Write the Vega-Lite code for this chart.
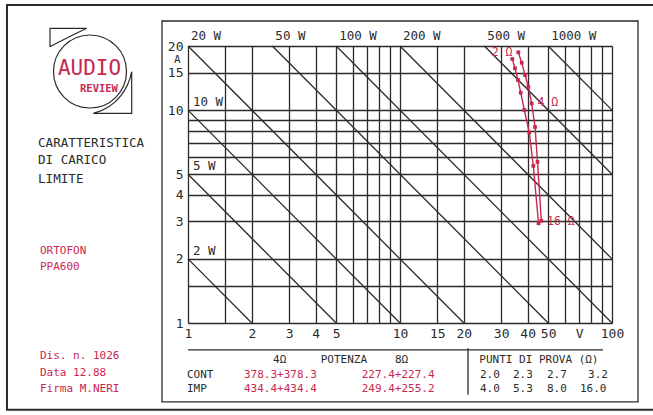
{
  "$schema": "https://vega.github.io/schema/vega-lite/v6.json",
  "width": 424,
  "height": 277,
  "autosize": {"type": "none"},
  "padding": {"left": 188, "top": 46, "right": 41, "bottom": 92},
  "background": "white",
  "config": {
    "view": {"stroke": null},
    "font": "DejaVu Sans Mono",
    "text": {"font": "DejaVu Sans Mono"}
  },
  "datasets": {
    "power": [
      {"P": 2, "x": 1, "y": 2}, {"P": 2, "x": 2, "y": 1},
      {"P": 5, "x": 1, "y": 5}, {"P": 5, "x": 5, "y": 1},
      {"P": 10, "x": 1, "y": 10}, {"P": 10, "x": 10, "y": 1},
      {"P": 20, "x": 1, "y": 20}, {"P": 20, "x": 20, "y": 1},
      {"P": 50, "x": 2.5, "y": 20}, {"P": 50, "x": 50, "y": 1},
      {"P": 100, "x": 5, "y": 20}, {"P": 100, "x": 100, "y": 1},
      {"P": 200, "x": 10, "y": 20}, {"P": 200, "x": 100, "y": 2},
      {"P": 500, "x": 25, "y": 20}, {"P": 500, "x": 100, "y": 5},
      {"P": 1000, "x": 50, "y": 20}, {"P": 1000, "x": 100, "y": 10}
    ],
    "topLabels": [
      {"label": "20 W", "x": 1, "y": 20},
      {"label": "50 W", "x": 2.5, "y": 20},
      {"label": "100 W", "x": 5, "y": 20},
      {"label": "200 W", "x": 10, "y": 20},
      {"label": "500 W", "x": 25, "y": 20},
      {"label": "1000 W", "x": 50, "y": 20}
    ],
    "innerLabels": [
      {"label": "10 W", "x": 1, "y": 10},
      {"label": "5 W", "x": 1, "y": 5},
      {"label": "2 W", "x": 1, "y": 2}
    ],
    "curves": [
      {"s": "A", "ohm": 2, "x": 33.86, "y": 17.38},
      {"s": "A", "ohm": 2.3, "x": 34.86, "y": 15.72},
      {"s": "A", "ohm": 2.7, "x": 36.03, "y": 13.85},
      {"s": "A", "ohm": 3.2, "x": 37.1, "y": 12.07},
      {"s": "A", "ohm": 4, "x": 38.58, "y": 10.01},
      {"s": "A", "ohm": 5.3, "x": 40.73, "y": 7.85},
      {"s": "A", "ohm": 8, "x": 42.55, "y": 5.47},
      {"s": "A", "ohm": 16, "x": 45.02, "y": 2.94},
      {"s": "B", "ohm": 2, "x": 36.14, "y": 18.69},
      {"s": "B", "ohm": 2.3, "x": 37.5, "y": 16.7},
      {"s": "B", "ohm": 2.7, "x": 38.87, "y": 14.62},
      {"s": "B", "ohm": 3.2, "x": 40.29, "y": 12.88},
      {"s": "B", "ohm": 4, "x": 41.8, "y": 10.74},
      {"s": "B", "ohm": 5.3, "x": 43.35, "y": 8.33},
      {"s": "B", "ohm": 8, "x": 44.53, "y": 5.71},
      {"s": "B", "ohm": 16, "x": 46.39, "y": 3.02}
    ],
    "curveLabels": [
      {"label": "2 Ω", "x": 27.07, "y": 18.54},
      {"label": "4 Ω", "x": 44.53, "y": 10.8},
      {"label": "16 Ω", "x": 49.36, "y": 2.984}
    ],
    "outerFrame": [{"x": 0.14, "x2": 168.4, "y": 31.15, "y2": 0.391}],
    "innerFrame": [{"x": 0.7541, "x2": 132.6, "y": 26.21, "y2": 0.4262}],
    "tableRules": [
      {"x": 1, "x2": 90.7, "y": 0.7479, "y2": 0.7479},
      {"x": 20.93, "x2": 20.93, "y": 0.7602, "y2": 0.4598}
    ],
    "titleText": [
      {"label": "CARATTERISTICA", "x": 0.1961, "y": 7.03},
      {"label": "DI CARICO", "x": 0.1961, "y": 5.83},
      {"label": "LIMITE", "x": 0.1961, "y": 4.73}
    ],
    "unitText": [
      {"label": "A", "x": 0.86, "y": 17.1}
    ],
    "redText": [
      {"label": "ORTOFON", "x": 0.2003, "y": 2.19},
      {"label": "PPA600", "x": 0.2003, "y": 1.84},
      {"label": "Dis. n. 1026", "x": 0.2003, "y": 0.701},
      {"label": "Data 12.88", "x": 0.2003, "y": 0.585},
      {"label": "Firma M.NERI", "x": 0.2003, "y": 0.4906},
      {"label": "378.3+378.3", "x": 1.837, "y": 0.5706},
      {"label": "434.4+434.4", "x": 1.837, "y": 0.489},
      {"label": "227.4+227.4", "x": 6.597, "y": 0.5706},
      {"label": "249.4+255.2", "x": 6.597, "y": 0.489}
    ],
    "tableText": [
      {"label": "4Ω", "x": 2.518, "y": 0.671},
      {"label": "POTENZA", "x": 4.226, "y": 0.671},
      {"label": "8Ω", "x": 9.47, "y": 0.671},
      {"label": "PUNTI DI PROVA (Ω)", "x": 23.66, "y": 0.671},
      {"label": "CONT", "x": 0.989, "y": 0.5706},
      {"label": "IMP", "x": 0.989, "y": 0.489},
      {"label": "2.0", "x": 23.84, "y": 0.5706},
      {"label": "2.3", "x": 34.12, "y": 0.5706},
      {"label": "2.7", "x": 49.36, "y": 0.5706},
      {"label": "3.2", "x": 77.06, "y": 0.5706},
      {"label": "4.0", "x": 23.84, "y": 0.489},
      {"label": "5.3", "x": 34.12, "y": 0.489},
      {"label": "8.0", "x": 49.36, "y": 0.489},
      {"label": "16.0", "x": 70.63, "y": 0.489}
    ],
    "logo": [{"x": 0.3449, "y": 15.18}],
    "logoBig": [{"label": "AUDIO", "x": 0.3431, "y": 15.55}],
    "logoSmall": [{"label": "REVIEW", "x": 0.3802, "y": 12.6}]
  },
  "encoding": {
    "x": {
      "field": "x", "type": "quantitative",
      "scale": {"type": "log", "domain": [1, 100], "nice": false},
      "axis": {
        "values": [1, 1.5, 2, 3, 4, 5, 6, 7, 8, 9, 10, 15, 20, 30, 40, 50, 60, 70, 80, 90, 100],
        "labelExpr": "datum.value == 70 ? 'V' : (indexof([1,2,3,4,5,10,15,20,30,40,50,100], datum.value) >= 0 ? '' + datum.value : '')",
        "title": null, "grid": true, "gridColor": "#2b2b2b", "gridWidth": 1.3, "gridOpacity": 1,
        "domain": false, "ticks": false, "labelPadding": 4, "labelFontSize": 13,
        "labelFont": "DejaVu Sans Mono", "labelColor": "#2b2b2b",
        "labelOverlap": false, "labelFlush": false, "labelBound": false
      }
    },
    "y": {
      "field": "y", "type": "quantitative",
      "scale": {"type": "log", "domain": [1, 20], "nice": false},
      "axis": {
        "values": [1, 1.5, 2, 3, 4, 5, 6, 7, 8, 9, 10, 15, 20],
        "labelExpr": "indexof([1,2,3,4,5,10,15,20], datum.value) >= 0 ? '' + datum.value : ''",
        "title": null, "grid": true, "gridColor": "#2b2b2b", "gridWidth": 1.3, "gridOpacity": 1,
        "domain": false, "ticks": false, "labelPadding": 5, "labelFontSize": 13,
        "labelFont": "DejaVu Sans Mono", "labelColor": "#2b2b2b",
        "labelOverlap": false, "labelFlush": false, "labelBound": false
      }
    }
  },
  "layer": [
    {
      "data": {"name": "outerFrame"},
      "mark": {"type": "rect", "filled": false, "stroke": "#2b2b2b", "strokeWidth": 2, "clip": false},
      "encoding": {"x2": {"field": "x2"}, "y2": {"field": "y2"}}
    },
    {
      "data": {"name": "innerFrame"},
      "mark": {"type": "rect", "filled": false, "stroke": "#2b2b2b", "strokeWidth": 1.3, "clip": false},
      "encoding": {"x2": {"field": "x2"}, "y2": {"field": "y2"}}
    },
    {
      "data": {"name": "tableRules"},
      "mark": {"type": "rule", "stroke": "#2b2b2b", "strokeWidth": 1.3},
      "encoding": {"x2": {"field": "x2"}, "y2": {"field": "y2"}}
    },
    {
      "data": {"name": "power"},
      "mark": {"type": "line", "stroke": "#2b2b2b", "strokeWidth": 1.3},
      "encoding": {"detail": {"field": "P", "type": "nominal"}}
    },
    {
      "data": {"name": "topLabels"},
      "mark": {"type": "text", "align": "left", "baseline": "alphabetic", "dx": 3, "dy": -6, "fontSize": 12.5, "fill": "#2b2b2b"},
      "encoding": {"text": {"field": "label"}}
    },
    {
      "data": {"name": "innerLabels"},
      "mark": {"type": "text", "align": "left", "baseline": "alphabetic", "dx": 5, "dy": -4, "fontSize": 12.5, "fill": "#2b2b2b"},
      "encoding": {"text": {"field": "label"}}
    },
    {
      "data": {"name": "curves"},
      "mark": {"type": "line", "stroke": "#c8284f", "strokeWidth": 1.4},
      "encoding": {"detail": {"field": "s", "type": "nominal"}, "order": {"field": "ohm", "type": "quantitative"}}
    },
    {
      "data": {"name": "curves"},
      "mark": {"type": "point", "filled": true, "shape": "square", "size": 14, "color": "#c8284f", "opacity": 1}
    },
    {
      "data": {"name": "curveLabels"},
      "mark": {"type": "text", "align": "left", "baseline": "middle", "fontSize": 11.5, "fill": "#c8284f"},
      "encoding": {"text": {"field": "label"}}
    },
    {
      "data": {"name": "titleText"},
      "mark": {"type": "text", "align": "left", "baseline": "middle", "fontSize": 12.6, "fill": "#2b2b2b"},
      "encoding": {"text": {"field": "label"}}
    },
    {
      "data": {"name": "unitText"},
      "mark": {"type": "text", "align": "left", "baseline": "middle", "fontSize": 11, "fill": "#2b2b2b"},
      "encoding": {"text": {"field": "label"}}
    },
    {
      "data": {"name": "redText"},
      "mark": {"type": "text", "align": "left", "baseline": "middle", "fontSize": 11, "fill": "#c8284f"},
      "encoding": {"text": {"field": "label"}}
    },
    {
      "data": {"name": "tableText"},
      "mark": {"type": "text", "align": "left", "baseline": "middle", "fontSize": 11, "fill": "#2b2b2b"},
      "encoding": {"text": {"field": "label"}}
    },
    {
      "data": {"name": "logo"},
      "mark": {"type": "point", "shape": "circle", "filled": false, "size": 5329, "color": "#2b2b2b", "strokeWidth": 1.2, "opacity": 1}
    },
    {
      "data": {"name": "logo"},
      "mark": {"type": "point", "shape": "M -0.8 -0.496 L -0.8 -0.864 L -0.066 -0.864 C -0.28 -0.76 -0.68 -0.56 -0.8 -0.496 M 0.834 0.004 L 0.834 0.836 L 0.066 0.836 C 0.56 0.72 0.78 0.3 0.834 0.004", "filled": false, "size": 10000, "color": "#2b2b2b", "strokeWidth": 1.2, "opacity": 1}
    },
    {
      "data": {"name": "logoBig"},
      "mark": {"type": "text", "align": "center", "baseline": "middle", "fontSize": 21, "fill": "#c8284f"},
      "encoding": {"text": {"field": "label"}}
    },
    {
      "data": {"name": "logoSmall"},
      "mark": {"type": "text", "align": "center", "baseline": "middle", "fontSize": 10.5, "fontWeight": "bold", "fill": "#c8284f"},
      "encoding": {"text": {"field": "label"}}
    }
  ]
}
